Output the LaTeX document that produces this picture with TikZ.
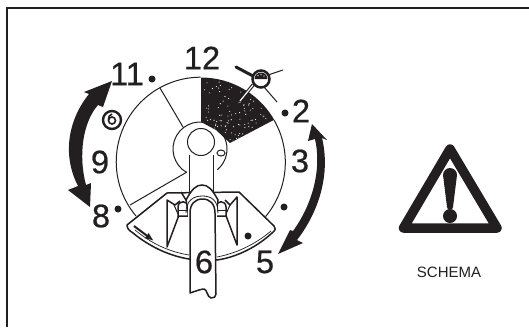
\documentclass[tikz,border=0pt]{standalone}
\usepackage{fontspec}
\usetikzlibrary{calc,arrows.meta}
\setmainfont{Liberation Sans}
\newfontfamily\numfont[FakeBold=0.6]{Liberation Sans}
\definecolor{ink}{HTML}{231F20}
\tikzset{
 num/.style={font=\numfont\fontsize{32.5}{33}\selectfont,text=ink,inner sep=0pt},
 thin line/.style={draw=ink,line width=1pt},
 thick line/.style={draw=ink,line width=1.5pt},
 spot/.style={circle,fill=ink,inner sep=0pt,minimum size=7pt},
 bigarrow/.style={fill=ink,draw=none}
}
\begin{document}
\begin{tikzpicture}[x=1pt,y=-1pt]
\useasboundingbox (0,0) rectangle (529,327);
\fill[white] (0,0) rectangle (529,327);
\draw[line width=1.1pt,draw=ink] (7,327) -- (7,8) -- (529,8);
% dial
\coordinate (c) at (201,162);
\draw[thin line] (136,216) arc[start angle=220,end angle=90,radius=84.5pt];
\draw[thin line] (274,120) arc[start angle=30,end angle=-40,radius=84.5pt];
\fill[ink] (201,77.5) arc[start angle=90,end angle=30,radius=84.5pt] -- (230,143) -- (216,130) -- (201,122) -- cycle;
\pgfmathsetseed{7}
\foreach \i in {1,...,90}{
 \pgfmathsetmacro{\aa}{32+56*rnd}
 \pgfmathsetmacro{\rr}{36+46*rnd}
 \fill[white] ($(c)+(\aa:\rr pt)$) circle[radius=0.55pt];
}
% sector lines
\draw[thin line] (160,88) -- (183,127);
\draw[thin line] (130,205) -- (187,172);
% hub
\draw[thin line] ($(200,149)+(240:27pt)$) arc[start angle=240,end angle=-50,radius=27pt];
\draw[thin line,fill=white] (201,142) circle[radius=13.5pt];
\draw[thin line] (221,153) ellipse[x radius=4pt,y radius=3pt];
\draw[thin line] (189,155) -- (189,192);
\draw[thin line] (213,155) -- (213,192);
% guard
\draw[thick line,fill=white,line join=round] (167,193) -- (127,225) .. controls (127,229) and (130,231) .. (133,233) .. controls (150,247) and (170,256) .. (189,259) -- (217,260) .. controls (238,257) and (258,246) .. (272,233) .. controls (276,230) and (276,228) .. (274,226) -- (239,192) -- cycle;
\draw[ink,line width=0.7pt] (135,230) .. controls (152,244) and (170,252) .. (189,255);
\draw[ink,line width=0.7pt] (217,257) .. controls (238,253) and (257,243) .. (271,231);
% arrow on guard
\draw[ink,line width=2pt,-{Latex[length=9pt,width=7pt]}] (134,226) -- (154,241);
% blades
\draw[thick line,line join=round] (179,215) -- (167,247) -- (167,200) -- (175,205) -- (180,201);
\draw[thick line,line join=round] (225,213) -- (237,245) -- (237,197) -- (230,205) -- (225,200);
\draw[thin line] (174,205) -- (178,214);
\draw[thin line] (230,205) -- (226,214);
% clamp knobs
\draw[thick line,fill=white] (178,216) -- (178,207) .. controls (178,200) and (188,200) .. (188,207) -- (188,216) -- cycle;
\draw[thick line,fill=white] (216,216) -- (216,207) .. controls (216,200) and (226,200) .. (226,207) -- (226,216) -- cycle;
\draw[thin line] (178,210) -- (188,210);
\draw[thin line] (216,210) -- (226,210);
% arch
\draw[thick line,fill=white] (186,200) .. controls (192,189) and (196,185) .. (202,185) .. controls (208,185) and (212,189) .. (218,200) -- (216,216) -- (189,216) -- cycle;
\fill[white] (187.5,201) rectangle (216.5,218);
\draw[thick line] (181,192) -- (186,200);
% tube
\draw[thick line,line join=round,fill=white] (190,293) -- (190,213) .. controls (190,204) and (195,199) .. (202.5,199) .. controls (210,199) and (215,204) .. (215,213) -- (216,294) .. controls (216,297) and (214,298) .. (211,298) .. controls (207,297) and (207,289) .. (204,289) .. controls (201,289) and (196,291) .. (190,293) -- cycle;
\draw[ink,line width=0.8pt] (186,213) .. controls (186,200) and (194,196) .. (202.5,196) .. controls (211,196) and (218,200) .. (218,213);
\node[num] (n6) at (204,262) {6};
% spots
\node[spot] (d1) at (152,79) {};
\node[spot] (d2) at (285,113) {};
\node[spot] (d3) at (284,207) {};
\node[spot] (d4) at (248,236) {};
\node[spot] (d5) at (118,209) {};
% numbers
\node[num] (n11) at (127,74) {11};
\node[num] (n12) at (202,58) {12};
\node[num] (n2) at (301,111) {2};
\node[num] (n3) at (300,161) {3};
\node[num] (n5) at (265,262) {5};
\node[num] (n8) at (101,216) {8};
\node[num] (n9) at (100,162) {9};
% left double arrow
\fill[bigarrow] (112,81) -- (84,92) -- (89,94) .. controls (68,120) and (62,155) .. (78,186) -- (68,190) -- (90,207) -- (91,183) -- (86,185) .. controls (78,155) and (83,122) .. (98,105) -- (103,107) -- cycle;
% right double arrow
\fill[bigarrow] (312,124) -- (308,141) -- (315,139) .. controls (322,170) and (312,205) .. (293,231) -- (290,230) -- (278,254) -- (303,243) -- (297,240) .. controls (318,213) and (331,175) .. (322,138) -- (327,140) -- cycle;
% nut top right
\draw[ink,line width=3pt,line cap=round] (236,67) -- (253,76);
\draw[ink,line width=1pt] (268,75) -- (283,70);
\draw[ink,line width=1pt] (264,87) -- (277,102);
\draw[ink,line width=3.4pt,line cap=round] (253,85) -- (240,101);
\draw[white,line width=1.2pt,line cap=round] (253,85) -- (240,101);
\node[circle,draw=ink,line width=2.5pt,fill=white,minimum size=17pt,inner sep=0pt] (nut) at (261,79) {};
\fill[ink] (254.5,79) arc[start angle=180,end angle=0,radius=6.5pt] -- cycle;
\fill[white] (258,75.5) circle[radius=0.7pt] (261,74.5) circle[radius=0.7pt] (264,76) circle[radius=0.7pt];
% screw left
\node[circle,draw=ink,line width=2.4pt,fill=white,minimum size=18pt,inner sep=0pt] (screw) at (112,120) {};
\draw[ink,line width=1.6pt] (112,120.5) circle[radius=3.5pt];
\draw[ink,line width=1.6pt] (108.5,120) .. controls (108.5,117) and (109,115) .. (112,114);
% warning
\draw[ink,line width=9.5pt,line join=round] (450,149) -- (497,228) -- (403.5,228) -- cycle;
\fill[ink] (443,175) arc[start angle=180,end angle=0,radius=7pt] -- (453,207) arc[start angle=0,end angle=-180,radius=3pt] -- cycle;
\fill[ink] (450,216) circle[radius=7pt];
\node[font=\fontsize{15}{15}\selectfont,text=ink,inner sep=0pt] (t) at (449,272) {SCHEMA};
\end{tikzpicture}
\end{document}
